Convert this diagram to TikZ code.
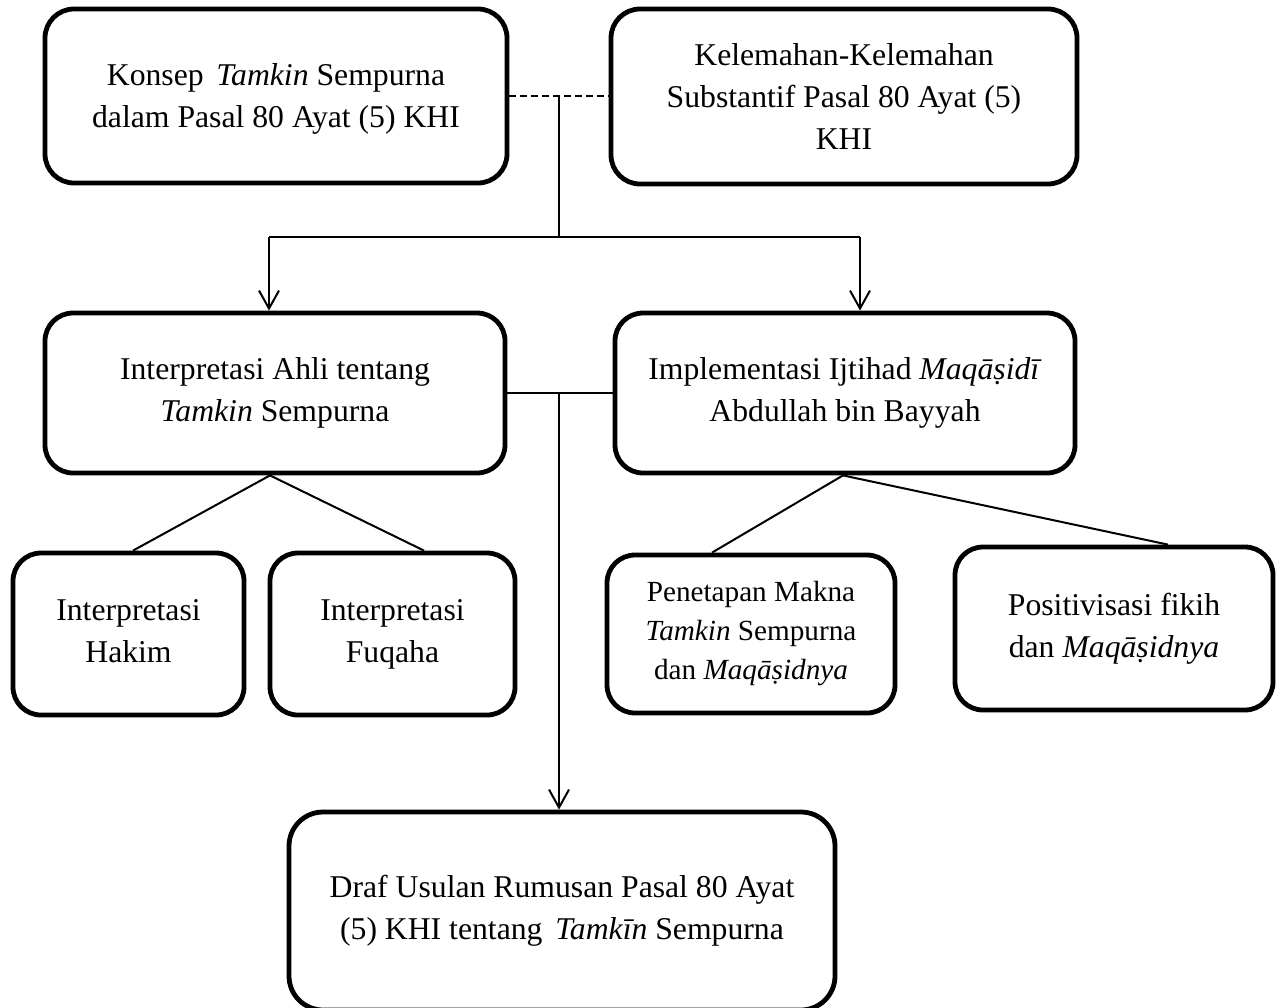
\documentclass[tikz,border=0pt]{standalone}
\usepackage{fontspec}
\setmainfont{Liberation Serif}
\usetikzlibrary{arrows.meta}
\begin{document}
\begin{tikzpicture}[x=0.5pt,y=-0.5pt,
  box/.style={draw, line width=2.4pt, align=center, inner sep=0pt, rounded corners=14pt,
    font=\fontsize{15.85}{21}\selectfont},
  smallbox/.style={box, font=\fontsize{14.6}{19.5}\selectfont},
  conn/.style={line width=1pt},
  arr/.style={conn, -{Straight Barb[length=9pt,width=10pt,line width=1pt]}},
  dashline/.style={conn, dash pattern=on 3.5pt off 2pt},
]
\useasboundingbox (0,0) rectangle (1278,1007);
\clip (0,0) rectangle (1278,1007);

\node[box, minimum width=231pt, minimum height=87pt, rounded corners=14.5pt] (A) at (276,96)
  {\rule{0pt}{13.8pt}Konsep\hspace{0.15em} \textit{Tamkin} Sempurna\\dalam Pasal 80 Ayat (5) KHI};
\node[box, minimum width=233pt, minimum height=87.5pt, rounded corners=14.5pt] (B) at (844,96.5)
  {Kelemahan-Kelemahan\\Substantif Pasal 80 Ayat (5)\\KHI};
\node[box, minimum width=230pt, minimum height=80pt] (C) at (275,393)
  {Interpretasi Ahli tentang\\\textit{Tamkin} Sempurna};
\node[box, minimum width=230pt, minimum height=80pt] (D) at (845,393)
  {Implementasi Ijtihad \textit{Maqāṣidī}\\Abdullah bin Bayyah};
\node[box, minimum width=115.5pt, minimum height=81pt] (E) at (128.5,634)
  {Interpretasi\\Hakim\vphantom{p}};
\node[box, minimum width=122.5pt, minimum height=81pt] (F) at (392.5,634)
  {Interpretasi\\Fuqaha};
\node[smallbox, minimum width=144pt, minimum height=79pt] (G) at (751,634)
  {Penetapan Makna\\\textit{Tamkin} Sempurna\\dan \textit{Maqāṣidnya}};
\node[box, minimum width=159pt, minimum height=81.5pt] (H) at (1114,628.5)
  {Positivisasi fikih\\dan \textit{Maqāṣidnya}};
\node[box, minimum width=273pt, minimum height=99pt, rounded corners=17pt] (I) at (562,911)
  {Draf Usulan Rumusan Pasal 80 Ayat\\(5) KHI tentang\hspace{0.15em} \textit{Tamkīn} Sempurna};

% top connectors
\draw[dashline] (A.east) -- (A.east -| B.west);
\coordinate (j1) at (559,96);
\coordinate (t) at (559,237);
\coordinate (tl) at (269,237);
\coordinate (tr) at (860,237);
\draw[conn] (j1) -- (t);
\draw[conn] (tl) -- (tr);
\draw[arr] (tl) -- (tl |- C.north);
\draw[arr] (tr) -- (tr |- D.north);

% middle connectors
\draw[conn] (C.east) -- (D.west);
\coordinate (j2) at (559,393);
\draw[arr] (j2) -- (j2 |- I.north);

% branches
\draw[conn] (270,0 |- C.south) -- (133,0 |- E.north);
\draw[conn] (270,0 |- C.south) -- (424,0 |- F.north);
\draw[conn] (843,0 |- D.south) -- (712,0 |- G.north);
\draw[conn] (843,0 |- D.south) -- (1168,0 |- H.north);
\end{tikzpicture}
\end{document}
